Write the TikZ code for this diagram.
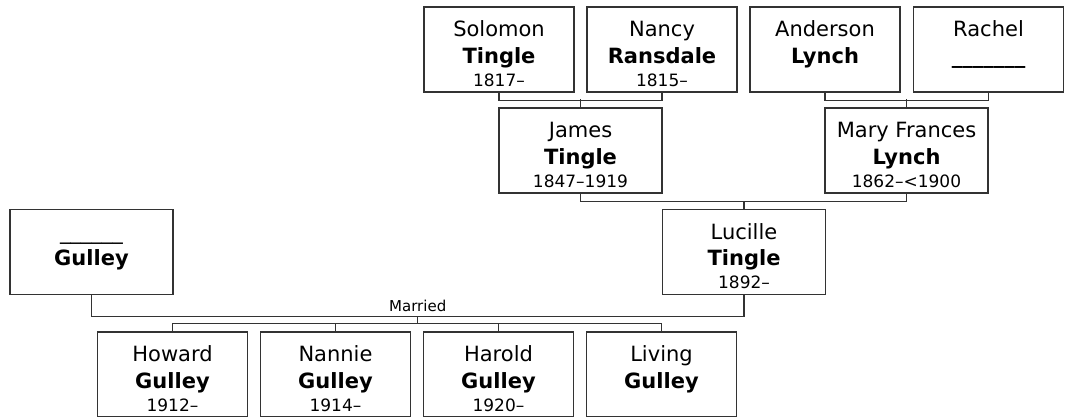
\documentclass[tikz,border=0pt]{standalone}
\usepackage{fontspec}
\setmainfont{DejaVu Sans}
\newcommand{\yrs}[1]{{\fontsize{17}{20}\selectfont #1}}
\newcommand{\who}[3]{\rule{0pt}{24pt}#1\\\textbf{#2}\\[-3.6pt]#3}
\begin{document}
\begin{tikzpicture}[
    x=1pt, y=-1pt,
    person/.style={rectangle, draw=black!80, line width=1.2pt, fill=white, minimum width=150pt, minimum height=85pt, inner sep=0pt, align=center, font=\fontsize{21}{26.6}\selectfont},
    wide/.style={person, minimum width=163pt},
    link/.style={draw=black!80, line width=1.2pt}
]
    \useasboundingbox (0,0) rectangle (1066,416);

    % Grandparents
    \node[person] (solomon) at (499, 49.5) {\who{Solomon}{Tingle}{\yrs{1817--}}};
    \node[person] (nancy) at (662, 49.5) {\who{Nancy}{Ransdale}{\yrs{1815--}}};
    \node[person] (anderson) at (825, 49.5) {\who{Anderson}{Lynch}{~}};
    \node[person] (rachel) at (988.5, 49.5) {\who{Rachel}{\_\_\_\_\_\_\_}{~}};

    % Parents of Lucille
    \node[wide] (james) at (580.5, 150.5) {\who{James}{Tingle}{\yrs{1847--1919}}};
    \node[wide] (mary) at (906.5, 150.5) {\who{Mary Frances}{Lynch}{\yrs{1862--<1900}}};

    % Couple
    \node[wide] (gulley) at (91.5, 252) {\who{\_\_\_\_\_\_}{Gulley}{~}};
    \node[wide] (lucille) at (744, 252) {\who{Lucille}{Tingle}{\yrs{1892--}}};

    % Children
    \node[person] (howard) at (172.5, 374.5) {\who{Howard}{Gulley}{\yrs{1912--}}};
    \node[person] (nannie) at (335.5, 374.5) {\who{Nannie}{Gulley}{\yrs{1914--}}};
    \node[person] (harold) at (498.5, 374.5) {\who{Harold}{Gulley}{\yrs{1920--}}};
    \node[person] (living) at (661.5, 374.5) {\who{Living}{Gulley}{~}};

    % Connectors
    \draw[link] (solomon.south) -- ++(0,8) -| (nancy.south);
    \draw[link] (james.north) -- ++(0,-8);
    \draw[link] (anderson.south) -- ++(0,8) -| (rachel.south);
    \draw[link] (mary.north) -- ++(0,-8);
    \draw[link] (james.south) -- ++(0,8) -| (mary.south);
    \draw[link] (lucille.north) -- ++(0,-8);
    \draw[link] (gulley.south) -- ++(0,21) -| coordinate[pos=0.25] (wed) (lucille.south);
    \node[above, inner sep=4pt, font=\fontsize{15}{18}\selectfont] (married) at (wed) {Married};
    \draw[link] (wed) -- ++(0,8);
    \draw[link] (howard.north) -- ++(0,-8) -| (living.north);
    \draw[link] (nannie.north) -- ++(0,-8);
    \draw[link] (harold.north) -- ++(0,-8);
\end{tikzpicture}
\end{document}
